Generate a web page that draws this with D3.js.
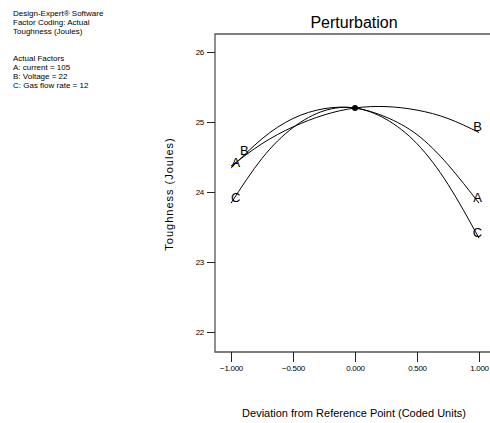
<!DOCTYPE html>
<html>
<head>
<meta charset="utf-8">
<script src="https://cdn.jsdelivr.net/npm/d3@7"></script>
<style>
  body { margin: 0; background: #fff; }
  text { font-family: Arial, "Liberation Sans", sans-serif; fill: #000; }
</style>
</head>
<body>
<div id="chart"></div>
<script>
// deviation points (coded units) and read-off toughness for each factor
const devs = [-1, -0.75, -0.5, -0.25, 0, 0.25, 0.5, 0.75, 1];
const toughA = [24.34, 24.76, 25.05, 25.19, 25.2, 25.07, 24.82, 24.39, 23.84];
const toughB = [24.37, 24.69, 24.93, 25.10, 25.2, 25.22, 25.17, 25.05, 24.85];
const toughC = [23.84, 24.48, 24.92, 25.16, 25.2, 25.04, 24.69, 24.11, 23.34];
const factorNames = ['A', 'B', 'C'];
const refPoint = [0, 25.2];
const xTicks = [-1, -0.5, 0, 0.5, 1];
const yTicks = [22, 23, 24, 25, 26];
const infoLines = ['Design-Expert® Software', 'Factor Coding: Actual', 'Toughness (Joules)',
  'Actual Factors', 'A: current = 105', 'B: Voltage = 22', 'C: Gas flow rate = 12'];

let W = 490, H = 423;
let margin = {top: 34, left: 215, bottom: 352, right: 495};

let svg = d3.select('#chart').append('svg')
  .attr('width', W).attr('height', H);

let sx = d3.scaleLinear().domain([-1, 1]).range([231, 479]);
let sy = d3.scaleLinear().domain([22, 26]).range([332, 52]);

// info block top left
let infoY = [15.7, 25, 34, 61, 70, 79, 88];
svg.append('g').selectAll('text')
  .data(infoLines)
  .enter().append('text')
    .attr('x', 13)
    .attr('y', (d, i) => infoY[i])
    .style('font-size', '8px')
    .text(d => d);

// title
svg.append('text')
  .attr('x', 354).attr('y', 28)
  .style('text-anchor', 'middle')
  .style('font-size', '16px')
  .text('Perturbation');

// frame
svg.append('path')
  .attr('d', `M${margin.right},${margin.top}H${margin.left}V${margin.bottom}H${margin.right}`)
  .attr('fill', 'none')
  .attr('stroke', '#555')
  .attr('stroke-width', 1.3);

// x axis
let x_axis = d3.axisBottom(sx).tickValues(xTicks).tickFormat(d3.format('.3f')).tickSize(10).tickPadding(3);
let gx = svg.append('g')
  .attr('transform', `translate(0,${margin.bottom})`)
  .call(x_axis);
gx.select('.domain').remove();
gx.selectAll('line').attr('stroke', '#222');
gx.selectAll('text').style('font-size', '8px').style('font-family', 'Arial, "Liberation Sans", sans-serif')
  .style('letter-spacing', '-0.3px');

// y axis
let y_axis = d3.axisLeft(sy).tickValues(yTicks).tickFormat(d3.format('d')).tickSize(8).tickPadding(3);
let gy = svg.append('g')
  .attr('transform', `translate(${margin.left},0)`)
  .call(y_axis);
gy.select('.domain').remove();
gy.selectAll('line').attr('stroke', '#222');
gy.selectAll('text').style('font-size', '8px').style('font-family', 'Arial, "Liberation Sans", sans-serif')
  .style('letter-spacing', '-0.3px');

// axis titles
svg.append('text')
  .attr('x', 354).attr('y', 416.5)
  .style('text-anchor', 'middle')
  .style('font-size', '11px')
  .text('Deviation from Reference Point (Coded Units)');

svg.append('text')
  .attr('transform', 'translate(173,194) rotate(-90)')
  .style('text-anchor', 'middle')
  .style('font-size', '11px')
  .style('letter-spacing', '1px')
  .text('Toughness (Joules)');

// curves
let series = [toughA, toughB, toughC].map((vals, i) => ({
  name: factorNames[i],
  pts: devs.map((d, j) => [d, vals[j]])
}));

let line = d3.line()
  .x(d => sx(d[0]))
  .y(d => sy(d[1]))
  .curve(d3.curveNatural);

svg.append('g').selectAll('path')
  .data(series)
  .enter().append('path')
    .attr('d', d => line(d.pts))
    .attr('fill', 'none')
    .attr('stroke', '#000')
    .attr('stroke-width', 1);

// end labels
let labelAt = {A: [-0.97, 0.98], B: [-0.9, 0.98], C: [-0.97, 0.98]};
let labels = [];
for (let s of series) {
  for (let k = 0; k < 2; k++) {
    let xv = labelAt[s.name][k];
    let idx = k === 0 ? 0 : devs.length - 1;
    let yv = s.pts[idx][1];
    if (s.name === 'B' && k === 0) yv = 24.51;
    labels.push({name: s.name, x: xv, y: yv});
  }
}
svg.append('g').selectAll('text')
  .data(labels)
  .enter().append('text')
    .attr('x', d => sx(d.x) + 1)
    .attr('y', d => sy(d.y) - 1.5)
    .style('text-anchor', 'middle')
    .style('font-size', '13px')
    .text(d => d.name);

// reference point
svg.append('circle')
  .attr('cx', sx(refPoint[0]))
  .attr('cy', sy(refPoint[1]))
  .attr('r', 3)
  .attr('fill', '#000');
</script>
</body>
</html>
